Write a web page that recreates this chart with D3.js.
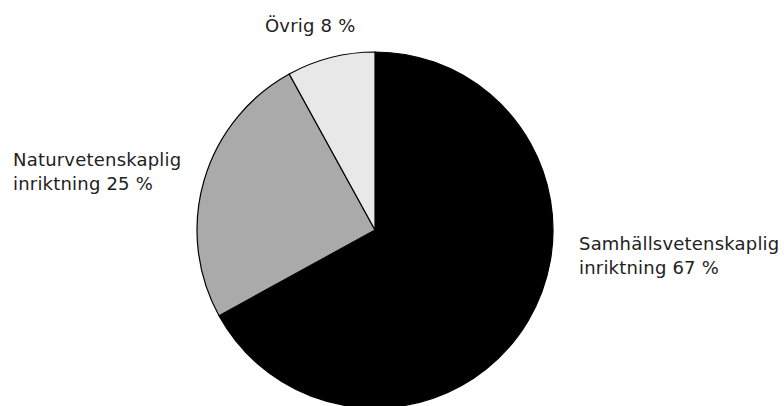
<!DOCTYPE html>
<html>
<head>
<meta charset="utf-8">
<script src="https://cdn.jsdelivr.net/npm/d3@7"></script>
<style>
    body { margin: 0; background: #fff; }
    text { font-family: "DejaVu Sans", sans-serif; font-size: 18px; letter-spacing: 0.2px; fill: #222; }
</style>
</head>
<body>
<svg width="784" height="406"></svg>
<script>
const categories = ["Samhällsvetenskaplig inriktning", "Naturvetenskaplig inriktning", "Övrig"];
const values = [67, 25, 8];
const labelLines = [
    ["Samhällsvetenskaplig", "inriktning 67 %"],
    ["Naturvetenskaplig", "inriktning 25 %"],
    ["Övrig 8 %"],
];
const colors = ["#000000", "#aaaaaa", "#e8e8e8"];

const svg = d3.select("svg");
const cx = 375, cy = 230, radius = 178;

const g = svg.append("g")
    .attr("transform", `translate(${cx},${cy})`);

const pie = d3.pie().sort(null).value(d => d);
const arcs = pie(values);
const arc = d3.arc().innerRadius(0).outerRadius(radius);

g.selectAll("path")
    .data(arcs)
    .enter()
    .append("path")
    .attr("d", arc)
    .attr("fill", (d, i) => colors[i])
    .attr("stroke", "#000")
    .attr("stroke-width", 1.2)
;

// etiketter (placering per tårtbit)
const labelPos = [
    { x: 579, y: 250 },
    { x: 13, y: 166 },
    { x: 265, y: 32 },
];
svg.selectAll("text.label")
    .data(labelLines)
    .enter()
    .append("text")
    .attr("class", "label")
    .attr("x", (d, i) => labelPos[i].x)
    .attr("y", (d, i) => labelPos[i].y)
    .each(function(lines, i) {
        d3.select(this).selectAll("tspan")
            .data(lines)
            .enter()
            .append("tspan")
            .attr("x", labelPos[i].x)
            .attr("dy", (l, j) => j === 0 ? 0 : 24)
            .text(l => l);
    })
;
</script>
</body>
</html>
